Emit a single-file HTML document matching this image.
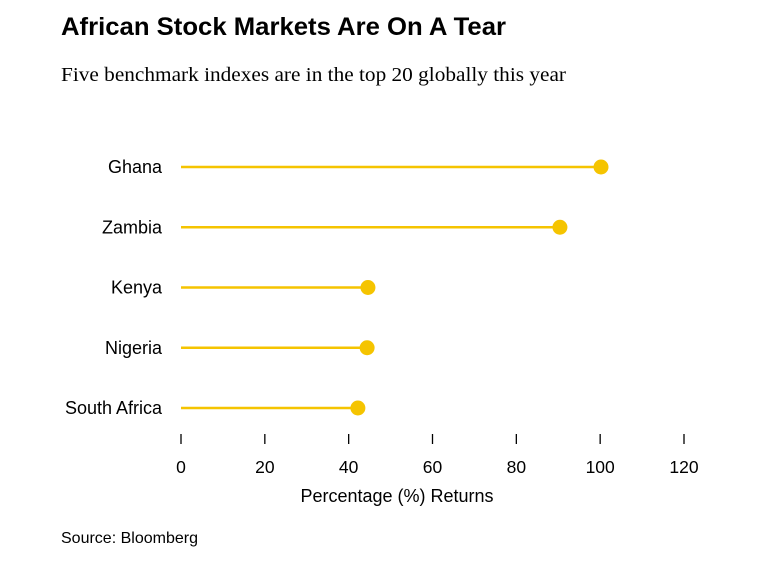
<!DOCTYPE html>
<html><head><meta charset="utf-8"><style>
body{margin:0;background:#fff;width:766px;height:568px;overflow:hidden;font-family:"Liberation Sans",sans-serif;}
</style></head><body>
<svg width="766" height="568">
<text x="61" y="35" font-size="25" font-weight="bold" fill="#000" textLength="445" lengthAdjust="spacingAndGlyphs">African Stock Markets Are On A Tear</text>
<text x="61" y="81" font-size="20.5" font-family="Liberation Serif, serif" fill="#000" textLength="505" lengthAdjust="spacingAndGlyphs">Five benchmark indexes are in the top 20 globally this year</text>
<g id="plot"></g>
<text x="397" y="502" font-size="18" text-anchor="middle" fill="#000">Percentage (%) Returns</text>
<text x="61" y="543" font-size="16" fill="#000">Source: Bloomberg</text>
</svg>
<script>
const categories=["Ghana","Zambia","Kenya","Nigeria","South Africa"];
const values=[100.2,90.4,44.6,44.4,42.2];
const ticks=[0,20,40,60,80,100,120];
const x=v=>181+v*(503/120);
const y=i=>167+i*60.25;
const g=document.getElementById('plot');
const ns='http://www.w3.org/2000/svg';
function mk(t,a){const e=document.createElementNS(ns,t);for(const k in a)e.setAttribute(k,a[k]);g.appendChild(e);return e;}
categories.forEach((c,i)=>{
 const l=mk('text',{x:162,y:y(i)+6,'font-size':18,'text-anchor':'end',fill:'#000'});l.textContent=c;
 
 
 const s=mk('line',{x1:x(0),x2:x(values[i]),y1:y(i),y2:y(i),stroke:'#f5c400','stroke-width':2.5});
 
 
 const d=mk('circle',{cx:x(values[i]),cy:y(i),r:7.5,fill:'#f5c400'});
 
 
});
ticks.forEach(t=>{
 const tl=mk('line',{x1:x(t),x2:x(t),y1:434,y2:444,stroke:'#000','stroke-width':1.3});
 
 
 const tx=mk('text',{x:x(t),y:473,'font-size':17.5,'text-anchor':'middle',fill:'#000'});tx.textContent=t;
 
 
});
</script>
</body></html>
